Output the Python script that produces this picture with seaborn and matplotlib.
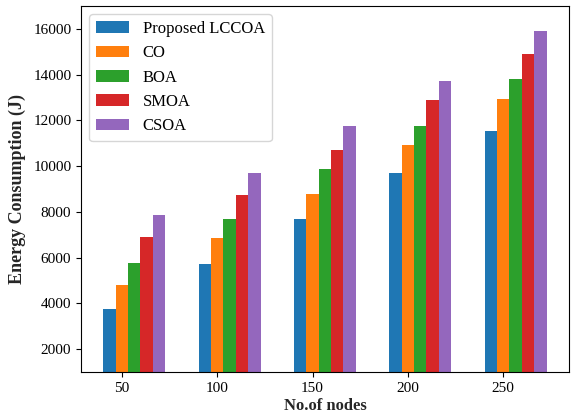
import numpy as np
import pandas as pd
import matplotlib
matplotlib.use("Agg")
import matplotlib.pyplot as plt
import seaborn as sns

nodes = [50, 100, 150, 200, 250]
methods = ["Proposed LCCOA", "CO", "BOA", "SMOA", "CSOA"]
lccoa = [3750, 5700, 7700, 9700, 11550]
co = [4800, 6850, 8800, 10900, 12950]
boa = [5750, 7700, 9850, 11750, 13800]
smoa = [6900, 8750, 10700, 12900, 14900]
csoa = [7850, 9700, 11750, 13700, 15900]

sns.set_style("ticks", {"axes.edgecolor": "black", "xtick.color": "black",
                        "ytick.color": "black", "text.color": "black"})
plt.rcParams["font.family"] = ["Liberation Serif", "DejaVu Serif"]

df = pd.DataFrame({"nodes": nodes, methods[0]: lccoa, methods[1]: co,
                   methods[2]: boa, methods[3]: smoa, methods[4]: csoa})
long = df.melt(id_vars="nodes", var_name="method", value_name="energy")

fig, ax = plt.subplots(figsize=(5.71, 4.18), dpi=100)
fig.subplots_adjust(left=0.142, right=0.996, top=0.986, bottom=0.11)

colors = sns.color_palette("tab10", 5)
w = 0.13
x = np.arange(len(nodes))
for i, m in enumerate(methods):
    sub = long[long["method"] == m]
    ax.bar(x + (i - 1) * w, sub["energy"].values, width=w, color=colors[i],
           linewidth=0, label=m)

ax.set_xticks(x)
ax.set_xticklabels([str(n) for n in nodes], fontsize=11)
ax.set_ylim(1000, 17000)
ax.set_yticks(range(2000, 17000, 2000))
ax.tick_params(axis="y", labelsize=11)
ax.set_xlabel("No.of nodes", fontsize=12, fontweight="bold", labelpad=2)
ax.set_ylabel("Energy Consumption (J)", fontsize=13, fontweight="bold", labelpad=5)
ax.legend(loc="upper left", fontsize=12, frameon=True)

fig.savefig("out.png", dpi=100)
